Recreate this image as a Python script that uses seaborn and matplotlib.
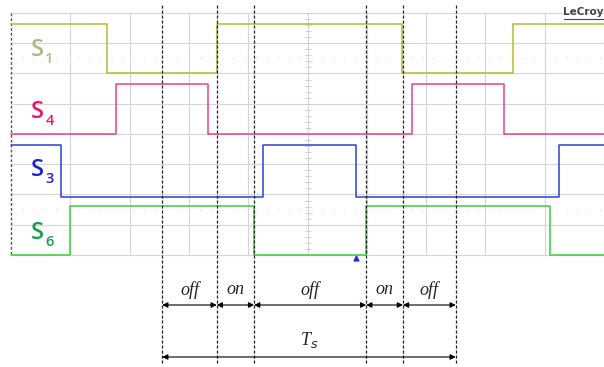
import numpy as np
import pandas as pd
import matplotlib
matplotlib.use("Agg")
import matplotlib.pyplot as plt
import seaborn as sns

# ---- data (time in scope divisions, levels in divisions from top) ----
signals = ["S1", "S4", "S3", "S6"]
sub_digits = ["1", "4", "3", "6"]
edges_S1 = [1.62, 3.47, 6.59, 8.47]
edges_S4 = [1.77, 3.32, 6.76, 8.31]
edges_S3 = [0.84, 4.25, 5.82, 9.24]
edges_S6 = [0.99, 4.10, 5.99, 9.09]
start_high = [True, False, True, False]
high_levels = [0.36, 2.35, 4.36, 6.38]
low_levels = [1.98, 4.00, 6.08, 8.00]
marker_times = [2.55, 3.47, 4.10, 5.99, 6.61, 7.50]
interval_labels = ["off", "on", "off", "on", "off"]
period_label = "T"
period_sub = "s"
t_start, t_end = 0.0, 10.0

trace_colors = ["#b8b82c", "#e4438c", "#2b3ed6", "#3ccf3c"]
label_colors = ["#b4b48c", "#e8176e", "#1a22cc", "#14a04a"]

# ---- build step data ----
df_rows = []
for name, edges, hi0, hi, lo in zip(signals, [edges_S1, edges_S4, edges_S3, edges_S6],
                                    start_high, high_levels, low_levels):
    state = hi0
    df_rows.append({"signal": name, "t": t_start, "v": hi if state else lo})
    for e in edges:
        state = not state
        df_rows.append({"signal": name, "t": e, "v": hi if state else lo})
    df_rows.append({"signal": name, "t": t_end, "v": hi if state else lo})
df = pd.DataFrame(df_rows)

# ---- figure ----
sns.set_style("white")
plt.rcParams["font.family"] = ["DejaVu Sans"]
fig = plt.figure(figsize=(6.04, 3.67), dpi=100)
ax = fig.add_axes([0, 0, 1, 1])
px_x = 59.3
px_y = 30.25
xlim = (-11 / px_x, 593 / px_x)
ylim = ((367 - 13) / px_y, -13 / px_y)

# scope grid
for gx in range(1, 11):
    ax.plot([gx, gx], [0, 8], color="#d6d6d6", lw=0.8, zorder=1)
for gy in range(0, 9):
    ax.plot([0, 10], [gy, gy], color="#d6d6d6", lw=0.8, zorder=1)
for gy in [1.5, 6.5]:
    ax.plot([0, 10], [gy, gy], color="#d8d8d8", lw=0.8, ls=(0, (1, 9)), zorder=1)
ax.plot([0, 0], [0, 8], color="#555555", lw=1.0, ls=(0, (2, 1.5)), zorder=2)
# center axis ticks
ticks_y = np.arange(0, 8.01, 0.2)
ax.plot(np.full_like(ticks_y, 5.0), ticks_y, ls="none", marker="_", ms=4,
        mew=0.6, color="#c8c8c8", zorder=1)

# traces
sns.lineplot(data=df, x="t", y="v", hue="signal", palette=dict(zip(signals, trace_colors)),
             estimator=None, sort=False, drawstyle="steps-post", lw=1.1,
             legend=False, ax=ax, zorder=3)
ax.set_xlim(*xlim)
ax.set_ylim(*ylim)
ax.axis("off")

# signal labels
label_y = [1.22, 3.27, 5.2, 7.28]
for d, ly, c in zip(sub_digits, label_y, label_colors):
    ax.text(0.44, ly, "S", color=c, fontsize=17, family="Open Sans",
            fontweight="semibold", ha="center", va="center", zorder=4)
    ax.text(0.65, ly + 0.3, d, color=c, fontsize=10.5, family="Open Sans",
            fontweight="semibold", ha="center", va="center", zorder=4)

# LeCroy
ax.text(10.0, 0.12, "LeCroy", color="#444444", fontsize=7.5, fontweight="bold",
        ha="right", va="bottom", zorder=4)
ax.plot([9.33, 10.0], [0.2, 0.2], color="#444444", lw=0.8, zorder=4)

# trigger marker
ax.plot([edges_S3[2]], [8.1], marker="^", ms=3.5, color="#2030d0", ls="none", zorder=4)

# dashed marker lines
y_top = (5 - 13) / px_y
y_bot = (365 - 13) / px_y
for mt in marker_times:
    ax.plot([mt, mt], [y_top, y_bot], color="#222222", lw=0.9, ls=(0, (2.5, 1.5)), zorder=5)

# interval arrows
y_arr = (305 - 13) / px_y
y_lab = (290 - 13) / px_y
for a, b, lab in zip(marker_times[:-1], marker_times[1:], interval_labels):
    ax.annotate("", xy=(b, y_arr), xytext=(a, y_arr),
                arrowprops=dict(arrowstyle="<|-|>", color="black", lw=0.8,
                                mutation_scale=8, shrinkA=0, shrinkB=0), zorder=6)
    ax.text((a + b) / 2, y_lab, lab, fontsize=13, style="italic",
            family="Liberation Serif", ha="center", va="center", zorder=6)

y_ts_arr = (357 - 13) / px_y
y_ts_lab = (340 - 13) / px_y
ax.annotate("", xy=(marker_times[-1], y_ts_arr), xytext=(marker_times[0], y_ts_arr),
            arrowprops=dict(arrowstyle="<|-|>", color="black", lw=0.8,
                            mutation_scale=8, shrinkA=0, shrinkB=0), zorder=6)
mid = (marker_times[0] + marker_times[-1]) / 2
ax.text(mid, y_ts_lab, period_label + "$_{" + period_sub + "}$", fontsize=13,
        style="italic", family="Liberation Serif", ha="center", va="center", zorder=6)

fig.savefig("out.png", dpi=100)
